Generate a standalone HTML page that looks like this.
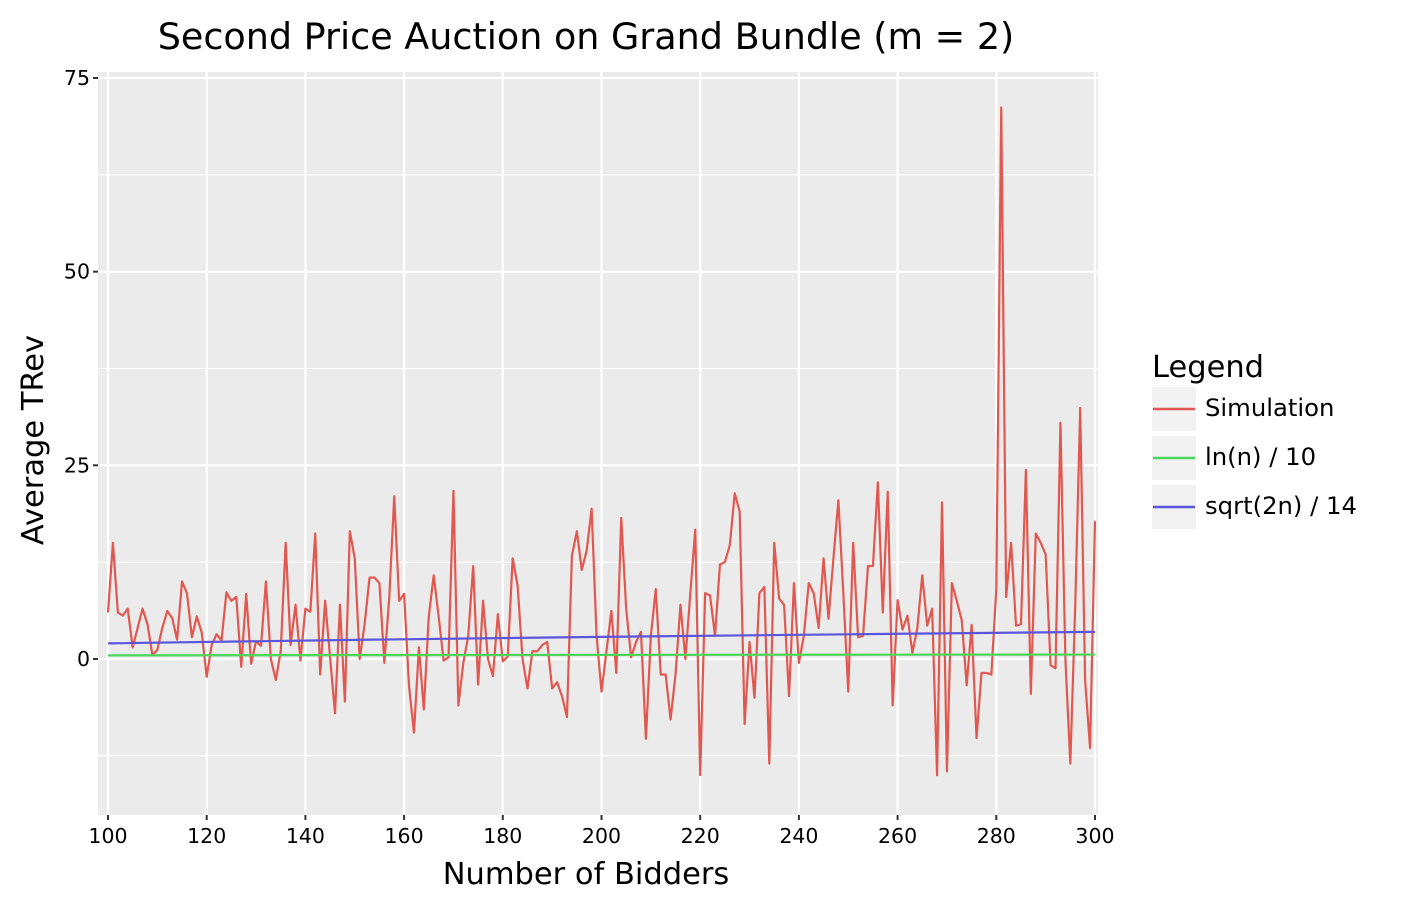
<!DOCTYPE html>
<html><head><meta charset="utf-8"><style>
body{margin:0;background:#fff;}
svg{display:block;font-family:"DejaVu Sans","Liberation Sans",sans-serif;}
</style></head><body>
<svg id="chart" width="1411" height="911" viewBox="0 0 1411 911" xmlns="http://www.w3.org/2000/svg">
<rect x="0" y="0" width="1411" height="911" fill="#fff"/>
<text x="586" y="49" font-size="36.5" text-anchor="middle" fill="#000">Second Price Auction on Grand Bundle (m = 2)</text>
<rect x="98" y="72" width="1000" height="743" fill="#ebebeb"/>
<g id="grid"></g>
<g id="series"></g>
<g id="axes"></g>
<text x="586" y="884" font-size="30.5" text-anchor="middle">Number of Bidders</text>
<text transform="translate(43,440) rotate(-90)" font-size="30.5" text-anchor="middle">Average TRev</text>
<g>
<text x="1152" y="377" font-size="30.5">Legend</text>
<g><rect x="1152" y="387" width="44" height="44" fill="#f2f2f2"/><line x1="1153" y1="409" x2="1195" y2="409" stroke="#e0584f" stroke-width="2.5"/><text x="1205" y="416" font-size="24.3">Simulation</text></g>
<g><rect x="1152" y="436" width="44" height="44" fill="#f2f2f2"/><line x1="1153" y1="458" x2="1195" y2="458" stroke="#4cd55a" stroke-width="2.5"/><text x="1205" y="465" font-size="24.3">ln(n) / 10</text></g>
<g><rect x="1152" y="485" width="44" height="44" fill="#f2f2f2"/><line x1="1153" y1="507" x2="1195" y2="507" stroke="#5b55dc" stroke-width="2.5"/><text x="1205" y="514" font-size="24.3">sqrt(2n) / 14</text></g>
</g>
</svg>
<script>
const simValues = [6,15,6,5.6,6.5,1.5,4,6.5,4.5,0.5,1.2,4,6.2,5.3,2.5,10,8.5,2.8,5.5,3.4,
-2.3,1.8,3.2,2.4,8.6,7.5,8,-1,8.4,-0.6,2.3,1.7,10,0,-2.7,1,15,1.8,7,-0.2,
6.5,6.1,16.2,-2,7.5,0.2,-7,7,-5.5,16.5,13,0,4.5,10.5,10.5,9.8,-0.5,8,21,7.5,
8.4,-3.5,-9.5,1.5,-6.5,5.5,10.8,5.5,-0.2,0.2,21.7,-6,-0.5,3,12,-3.3,7.5,0,-2.2,5.8,
-0.3,0.3,13,9.5,0,-3.8,1,1,1.8,2.2,-3.8,-3,-4.8,-7.5,13.3,16.5,11.5,14,19.4,3,
-4.2,1,6.2,-1.8,18.2,6.5,0.2,2.2,3.5,-10.3,3,9,-2,-2,-7.8,-2,7,0,8.5,16.7,
-15,8.5,8.2,3,12.2,12.5,14.7,21.4,19,-8.4,2.2,-5,8.5,9.3,-13.5,15,7.8,7,-4.8,9.8,
-0.5,3,9.8,8.5,4,13,5.2,13,20.5,8.5,-4.2,15,2.8,3,12,12,22.8,6,21.6,-6,
7.6,3.8,5.6,0.8,4,10.8,4.3,6.5,-15,20.2,-14.5,9.8,7.5,5,-3.4,4.4,-10.2,-1.8,-1.8,-2,
9,71.2,8,15,4.3,4.5,24.4,-4.5,16.2,15,13.5,-0.8,-1.2,30.5,0,-13.5,7,32.4,-2.8,-11.5,17.8];
const simStart = 100;
const refN = [100,150,200,250,300];
const lnValues = [0.461,0.501,0.530,0.552,0.570];
const sqrtValues = [2.02,2.47,2.86,3.19,3.50];
const xTicks = [100,120,140,160,180,200,220,240,260,280,300];
const yTicks = [0,25,50,75];
const yMinor = [-12.5,12.5,37.5,62.5];

const NS='http://www.w3.org/2000/svg';
const X0=108, X1=1095, Y0=659, YPU=(659-78)/75;
const xs=v=>X0+(v-100)*(X1-X0)/200;
const ys=v=>Y0-v*YPU;
function mk(tag,attrs,parent){const e=document.createElementNS(NS,tag);for(const k in attrs)e.setAttribute(k,attrs[k]);parent.appendChild(e);return e;}
const grid=document.getElementById('grid'),series=document.getElementById('series'),axes=document.getElementById('axes');
yMinor.forEach(v=>{const l=mk('line',{x1:98,x2:1098,y1:ys(v),y2:ys(v),stroke:'#fff','stroke-width':1.1},grid);

});
yTicks.forEach(v=>{const l=mk('line',{x1:98,x2:1098,y1:ys(v),y2:ys(v),stroke:'#fff','stroke-width':2.2},grid);


const t=mk('line',{x1:93,x2:98,y1:ys(v),y2:ys(v),stroke:'#333','stroke-width':2},axes);


const tx=mk('text',{x:90,y:ys(v)+7,'font-size':20.5,'text-anchor':'end',fill:'#000'},axes);tx.textContent=v;

});
xTicks.forEach(v=>{const l=mk('line',{x1:xs(v),x2:xs(v),y1:72,y2:815,stroke:'#fff','stroke-width':2.2},grid);


const t=mk('line',{x1:xs(v),x2:xs(v),y1:815,y2:820,stroke:'#333','stroke-width':2},axes);


const tx=mk('text',{x:xs(v),y:843,'font-size':20.5,'text-anchor':'middle',fill:'#000'},axes);tx.textContent=v;

});
function line(ns,vals,color,name){const p=mk('polyline',{points:ns.map((n,i)=>xs(n)+','+ys(vals[i])).join(' '),fill:'none',stroke:color,'stroke-width':2.2,'stroke-linejoin':'round'},series);

}
line(simValues.map((v,i)=>simStart+i),simValues,'#e0584f','simulation-line');
line(refN,lnValues,'#4cd55a','ln-n-line');
line(refN,sqrtValues,'#5b55dc','sqrt-2n-line');
</script>
</body></html>
